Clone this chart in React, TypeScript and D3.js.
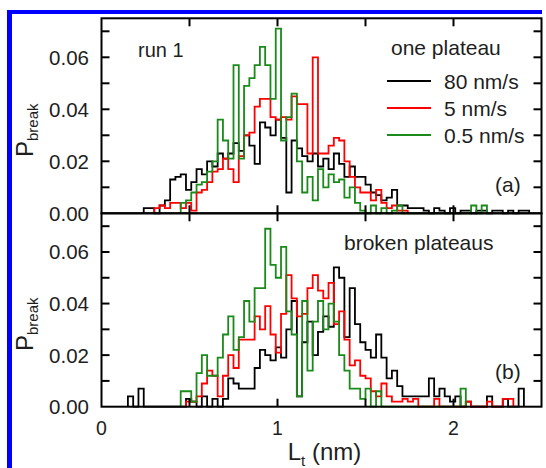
import * as d3 from 'd3';

const W = 546;
const H = 468;

// histogram bin width (nm); bin i spans i*BIN .. (i+1)*BIN
const BIN = 0.03;

const xTicks = [0, 1, 2];
const xMinorTicks = [0.5, 1, 1.5, 2];
const yTicks = [0, 0.02, 0.04, 0.06];
const yMinorTicks = [0.01, 0.02, 0.03, 0.04, 0.05, 0.06, 0.07];

const speeds = ['80 nm/s', '5 nm/s', '0.5 nm/s'];
const speedColors = ['#000000', '#ff0000', '#1a8a1a'];

// P_break values x 1000. first value is bin `*Start`
// (a) one plateau
const topBlackStart = 8;
const topBlack = [2, 2, 0, 3, 5, 13, 14, 15, 9, 12, 17, 15, 20, 18, 23, 21, 23, 27, 24, 30, 26, 19, 35, 33, 30, 36, 29, 8, 28, 25, 22, 20, 23, 18, 21, 17, 23, 19, 14, 18, 14, 14, 11, 8, 7, 5, 6, 9, 3, 3, 2, 2, 2, 1, 0, 2, 1, 0, 2, 0, 1, 1, 0, 1, 1, 0, 1, 1, 0, 1, 0, 1, 1];
const topRedStart = 10;
const topRed = [2, 3, 2, 4, 4, 2, 4, 1, 8, 9, 12, 16, 17, 21, 17, 12, 22, 30, 31, 41, 44, 44, 37, 36, 37, 36, 45, 42, 42, 23, 60, 23, 23, 26, 29, 28, 20, 14, 10, 8, 8, 5, 9, 4, 2, 3, 1, 1];
const topGreenStart = 15;
const topGreen = [4, 5, 8, 11, 12, 16, 20, 36, 28, 21, 57, 21, 49, 52, 57, 64, 57, 44, 71, 28, 37, 46, 20, 8, 14, 5, 17, 10, 15, 12, 13, 6, 10, 4, 1, 0, 3, 0, 2, 0, 1, 3, 0, 0, 0, 0, 0, 0, 0, 0, 0, 0, 0, 0, 0, 3, 0, 3];

// (b) broken plateaus
const botBlackStart = 5;
const botBlack = [4, 0, 7, 0, 0, 0, 0, 0, 0, 0, 0, 3, 2, 0, 4, 0, 3, 0, 3, 11, 9, 7, 7, 7, 15, 22, 20, 18, 23, 19, 30, 41, 4, 25, 33, 20, 29, 35, 31, 54, 50, 27, 46, 32, 25, 22, 19, 28, 19, 11, 14, 8, 4, 4, 4, 4, 4, 11, 4, 7, 4, 2, 4, 0, 2, 0, 0, 0, 4, 0, 0, 3, 0, 0, 7];
const botRedStart = 16;
const botRed = [2, 2, 4, 9, 14, 12, 4, 12, 20, 15, 26, 26, 26, 35, 30, 39, 28, 21, 36, 51, 42, 35, 36, 46, 51, 45, 42, 48, 32, 37, 26, 16, 18, 12, 11, 6, 4, 9, 4, 2, 2, 3, 2, 3, 0, 0, 0, 3, 0, 0, 0, 0, 0, 2, 0, 0, 0, 2, 0, 0, 3, 3];
const botGreenStart = 15;
const botGreen = [6, 6, 2, 13, 20, 12, 12, 19, 28, 35, 22, 27, 41, 33, 46, 46, 69, 55, 50, 62, 37, 28, 4, 41, 14, 33, 41, 30, 40, 33, 20, 14, 7, 7, 3, 7, 0, 6, 0, 0, 0, 0, 0, 0, 0, 0, 0, 0, 0, 0, 0, 0, 0, 7];

const LEFT = 101.5;
const RIGHT = 541.5;
const TOP_A = 18.3;
const MID = 213.3;
const BOT_B = 406.7;

const x = d3.scaleLinear().domain([0, 2.5]).range([LEFT, RIGHT]);

function stepPoints(start: number, vals: number[]) {
  const pts: [number, number][] = [[start * BIN, 0]];
  vals.forEach((v, k) => {
    const x0 = (start + k) * BIN;
    pts.push([x0, v / 1000], [x0 + BIN, v / 1000]);
  });
  pts.push([(start + vals.length) * BIN, 0]);
  return pts;
}

const FONT = '"Liberation Sans", Arial, sans-serif';
const TXT = '#1e1e1e';

function Panel({ y0, y1, series }: { y0: number; y1: number; series: { start: number; vals: number[]; color: string }[] }) {
  const y = d3.scaleLinear().domain([0, 0.075]).range([y1, y0]);
  const line = d3.line<[number, number]>().x(d => x(d[0])).y(d => y(d[1]));
  const tl = 8;
  return (
    <g>
      {series.map((s, i) => (
        <path key={i} d={line(stepPoints(s.start, s.vals)) || ''} fill="none" stroke={s.color} strokeWidth={1.8} strokeLinejoin="miter" />
      ))}
      <rect x={LEFT} y={y0} width={RIGHT - LEFT} height={y1 - y0} fill="none" stroke="#000" strokeWidth={2} />
      {yMinorTicks.map(t => (
        <g key={t}>
          <line x1={LEFT} x2={LEFT + tl} y1={y(t)} y2={y(t)} stroke="#000" strokeWidth={2} />
          <line x1={RIGHT} x2={RIGHT - tl} y1={y(t)} y2={y(t)} stroke="#000" strokeWidth={2} />
        </g>
      ))}
      {xMinorTicks.map(t => (
        <g key={t}>
          <line x1={x(t)} x2={x(t)} y1={y0} y2={y0 + tl} stroke="#000" strokeWidth={2} />
          <line x1={x(t)} x2={x(t)} y1={y1} y2={y1 - tl} stroke="#000" strokeWidth={2} />
        </g>
      ))}
      {yTicks.map(t => (
        <text key={t} x={89} y={y(t)} textAnchor="end" dominantBaseline="central" fontSize={20.5} fill={TXT}>
          {t.toFixed(2)}
        </text>
      ))}
    </g>
  );
}

export default function App() {
  const legendY = [81, 108, 135];
  return (
    <svg width={W} height={H} style={{ position: 'absolute', left: 0, top: 0, background: '#fff' }} fontFamily={FONT}>
      <rect x={0} y={0} width={W} height={H} fill="#fff" />
      {/* blue frame */}
      <rect x={7} y={10} width={535} height={4} fill="#0000ff" />
      <rect x={7} y={10} width={5} height={H - 10} fill="#0000ff" />

      <Panel
        y0={TOP_A}
        y1={MID}
        series={[
          { start: topBlackStart, vals: topBlack, color: speedColors[0] },
          { start: topRedStart, vals: topRed, color: speedColors[1] },
          { start: topGreenStart, vals: topGreen, color: speedColors[2] },
        ]}
      />
      <Panel
        y0={MID}
        y1={BOT_B}
        series={[
          { start: botBlackStart, vals: botBlack, color: speedColors[0] },
          { start: botRedStart, vals: botRed, color: speedColors[1] },
          { start: botGreenStart, vals: botGreen, color: speedColors[2] },
        ]}
      />

      {/* annotations */}
      <text x={138} y={57} fontSize={20} fill={TXT}>run 1</text>
      <text x={391} y={55} fontSize={21} fill={TXT}>one plateau</text>
      {speeds.map((s, i) => (
        <g key={s}>
          <line x1={387} x2={431} y1={legendY[i]} y2={legendY[i]} stroke={speedColors[i]} strokeWidth={1.8} />
          <text x={444} y={legendY[i] + 7.5} fontSize={21} fill={TXT}>{s}</text>
        </g>
      ))}
      <text x={495} y={192} fontSize={21} fill={TXT}>(a)</text>
      <text x={344} y={250} fontSize={21} fill={TXT}>broken plateaus</text>
      <text x={495} y={379} fontSize={21} fill={TXT}>(b)</text>

      {/* x tick labels */}
      {xTicks.map(t => (
        <text key={t} x={x(t)} y={435} textAnchor="middle" fontSize={19.5} fill={TXT}>{t}</text>
      ))}
      <text x={(LEFT + RIGHT) / 2 + 3} y={460} textAnchor="middle" fontSize={24} fill={TXT}>
        L<tspan fontSize={15} dy={6}>t</tspan>
        <tspan dy={-6}> (nm)</tspan>
      </text>

      {/* y titles */}
      {[157, 351].map(yy => (
        <text key={yy} transform={`translate(33, ${yy}) rotate(-90)`} fontSize={24} fill={TXT}>
          P<tspan fontSize={15} dy={5}>break</tspan>
        </text>
      ))}
    </svg>
  );
}
